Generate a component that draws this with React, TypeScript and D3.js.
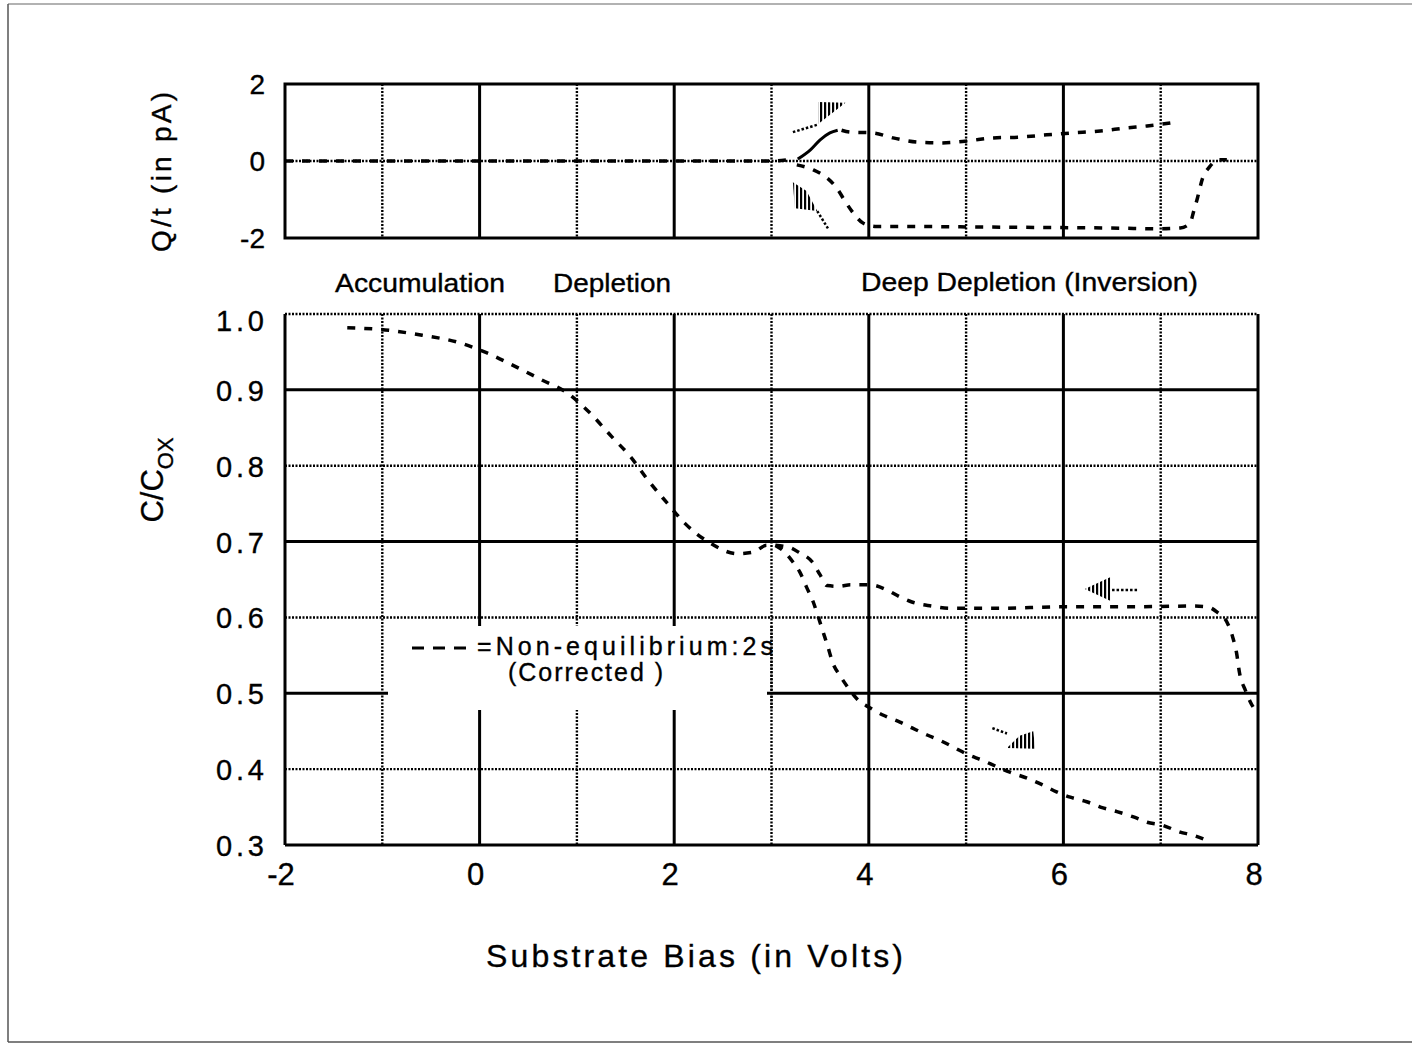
import React from "react";
import * as d3 from "d3";

// ---------- data ----------
const xTicks = [-2, 0, 2, 4, 6, 8];
const xGrid = [-1, 0, 1, 2, 3, 4, 5, 6, 7];
const qTicks = [2, 0, -2];
const cTicks = [1.0, 0.9, 0.8, 0.7, 0.6, 0.5, 0.4, 0.3];
const cGrid = [0.4, 0.5, 0.6, 0.7, 0.8, 0.9];

// C/Cox, common part of sweep
const cvCommon: [number, number][] = [
  [-1.36, 0.982], [-0.97, 0.979], [-0.59, 0.972], [-0.23, 0.963], [0.07, 0.949],
  [0.38, 0.93], [0.64, 0.913], [0.9, 0.896], [1.13, 0.87], [1.36, 0.838],
  [1.55, 0.812], [1.73, 0.781], [1.92, 0.752], [2.11, 0.724], [2.37, 0.698],
  [2.65, 0.684], [2.81, 0.686], [2.95, 0.695], [3.04, 0.695],
];
// C/Cox, deep-depletion branch (forward)
const cvDeep: [number, number][] = [
  [3.04, 0.695], [3.12, 0.688], [3.22, 0.673], [3.29, 0.66], [3.36, 0.64],
  [3.43, 0.62], [3.48, 0.601], [3.53, 0.581], [3.58, 0.561], [3.63, 0.54],
  [3.7, 0.524], [3.79, 0.507], [3.89, 0.491], [4.01, 0.481], [4.15, 0.471],
  [4.32, 0.462], [4.45, 0.454], [4.6, 0.445], [4.73, 0.438], [4.87, 0.429],
  [5.02, 0.419], [5.16, 0.412], [5.32, 0.403], [5.45, 0.396], [5.63, 0.388],
  [5.79, 0.379], [5.93, 0.37], [6.07, 0.363], [6.24, 0.357], [6.38, 0.35],
  [6.55, 0.344], [6.72, 0.337], [6.86, 0.33], [7.02, 0.326], [7.2, 0.317],
  [7.33, 0.313], [7.51, 0.304],
];
// C/Cox, return branch
const cvReturn: [number, number][] = [
  [3.04, 0.695], [3.19, 0.692], [3.29, 0.685], [3.42, 0.673], [3.5, 0.656],
  [3.57, 0.642], [3.7, 0.641], [3.81, 0.643], [4.01, 0.643], [4.19, 0.636],
  [4.32, 0.627], [4.45, 0.62], [4.65, 0.615], [4.83, 0.612], [5.01, 0.612],
  [5.35, 0.612], [5.97, 0.614], [6.65, 0.614], [7.33, 0.615], [7.48, 0.614],
  [7.58, 0.607], [7.68, 0.594], [7.74, 0.574], [7.78, 0.553], [7.81, 0.527],
  [7.87, 0.504], [7.92, 0.489], [7.99, 0.474],
];

// Q/t curves
const qFlat: [number, number][] = [[-2, 0], [3.0, 0.0], [3.16, 0.03]];
const qRiseSolid: [number, number][] = [
  [3.27, 0.05], [3.4, 0.29], [3.5, 0.55], [3.6, 0.73], [3.68, 0.8],
];
const qForward: [number, number][] = [
  [3.72, 0.8], [3.81, 0.75], [4.04, 0.73], [4.25, 0.6], [4.5, 0.49], [4.73, 0.47],
  [5.01, 0.52], [5.28, 0.6], [5.55, 0.62], [5.83, 0.68], [6.1, 0.73],
  [6.38, 0.78], [6.65, 0.86], [6.86, 0.91], [7.1, 0.99],
];
const qReturn: [number, number][] = [
  [3.26, -0.1], [3.43, -0.23], [3.57, -0.44], [3.67, -0.7], [3.76, -1.06],
  [3.84, -1.35], [3.94, -1.61], [4.08, -1.7], [4.42, -1.7], [4.94, -1.71],
  [5.45, -1.72], [5.97, -1.73], [6.48, -1.74], [6.99, -1.76], [7.2, -1.74],
  [7.3, -1.62], [7.34, -1.3], [7.38, -0.94], [7.43, -0.45], [7.5, -0.16],
  [7.59, 0.03], [7.68, 0.03],
];

// sweep-direction arrow annotations (hatched heads + dotted tails), data coords
const qArrowHeads: [number, number][][] = [
  [[3.48, 1.53], [3.48, 0.96], [3.76, 1.51]],
  [[3.22, -0.55], [3.24, -1.23], [3.47, -1.3], [3.36, -0.78]],
];
const qArrowTails: [number, number][][] = [
  [[3.22, 0.75], [3.47, 0.94]],
  [[3.47, -1.3], [3.58, -1.75]],
];
const cArrowHeads: [number, number][][] = [
  [[6.22, 0.6375], [6.48, 0.653], [6.48, 0.622]],
  [[5.42, 0.428], [5.71, 0.427], [5.69, 0.45], [5.55, 0.444]],
];
const cArrowTails: [number, number][][] = [
  [[6.5, 0.636], [6.77, 0.636]],
  [[5.27, 0.454], [5.42, 0.447]],
];

// ---------- layout ----------
const W = 1412;
const H = 1044;
const L = 285;
const R = 1258;
const qTop = 84;
const qBot = 238;
const cTop = 314;
const cBot = 845;

const FONT = "'Liberation Sans', Arial, Helvetica, sans-serif";

export default function App() {
  const x = d3.scaleLinear().domain([-2, 8]).range([L, R]);
  const yq = d3.scaleLinear().domain([-2, 2]).range([qBot, qTop]);
  const yc = d3.scaleLinear().domain([0.3, 1.0]).range([cBot, cTop]);

  const lineQ = d3
    .line<[number, number]>()
    .x((d) => x(d[0]))
    .y((d) => yq(d[1]))
    .curve(d3.curveMonotoneX);
  const lineC = d3
    .line<[number, number]>()
    .x((d) => x(d[0]))
    .y((d) => yc(d[1]))
    .curve(d3.curveMonotoneX);
  const polyQ = (pts: [number, number][]) =>
    "M" + pts.map((p) => `${x(p[0])},${yq(p[1])}`).join("L") + "Z";
  const polyC = (pts: [number, number][]) =>
    "M" + pts.map((p) => `${x(p[0])},${yc(p[1])}`).join("L") + "Z";
  const straightQ = d3.line<[number, number]>().x((d) => x(d[0])).y((d) => yq(d[1]));
  const straightC = d3.line<[number, number]>().x((d) => x(d[0])).y((d) => yc(d[1]));

  const solid = { stroke: "#000", strokeWidth: 3, fill: "none" };
  const dotted = { stroke: "#000", strokeWidth: 2.4, fill: "none", strokeDasharray: "2,1.5" };
  const dataDash = {
    stroke: "#000",
    strokeWidth: 3.5,
    fill: "none",
    strokeDasharray: "8,9",
  };
  const txt = { fill: "#000", stroke: "#000", strokeWidth: 0.35 };

  // legend box (white-out region of grid)
  const legX0 = 388;
  const legX1 = 767;
  const legY0 = 626;
  const legY1 = 710;

  return (
    <svg
      width={W}
      height={H}
      style={{ position: "absolute", left: 0, top: 0, display: "block", background: "#fff" }}
      fontFamily={FONT}
    >
      <defs>
        <pattern id="hatch" width="4" height="4" patternUnits="userSpaceOnUse">
          <rect x="0" y="0" width="2.2" height="4" fill="#000" />
        </pattern>
      </defs>
      <rect x={0} y={0} width={W} height={H} fill="#fff" />
      {/* page frame */}
      <line x1={8} y1={4} x2={W} y2={4} stroke="#666" strokeWidth={1.2} />
      <line x1={8} y1={4} x2={8} y2={1042} stroke="#555" strokeWidth={1.5} />
      <line x1={8} y1={1042} x2={W} y2={1042} stroke="#555" strokeWidth={1.5} />

      {/* ===== upper panel: Q/t ===== */}
      {xGrid.map((v) => (
        <line
          key={"qg" + v}
          x1={x(v)}
          x2={x(v)}
          y1={qTop}
          y2={qBot}
          {...(v % 2 === 0 ? solid : dotted)}
        />
      ))}
      <line x1={L} x2={R} y1={yq(0)} y2={yq(0)} {...dotted} />
      <rect x={L} y={qTop} width={R - L} height={qBot - qTop} {...solid} />

      {qTicks.map((v) => (
        <text
          key={"qt" + v}
          x={265}
          y={yq(v) + 10}
          textAnchor="end"
          fontSize={28}
          {...txt}
        >
          {String(v)}
        </text>
      ))}
      <text
        transform={`translate(171,172) rotate(-90)`}
        textAnchor="middle"
        fontSize={28}
        textLength={160}
        lengthAdjust="spacing"
        {...txt}
      >
        Q/t (in pA)
      </text>

      <path d={lineQ(qFlat) || ""} {...dataDash} />
      <path d={lineQ(qRiseSolid) || ""} stroke="#000" strokeWidth={3} fill="none" />
      <path d={lineQ(qForward) || ""} {...dataDash} />
      <path d={lineQ(qReturn) || ""} {...dataDash} />
      {qArrowHeads.map((p, i) => (
        <path key={"qah" + i} d={polyQ(p)} fill="url(#hatch)" />
      ))}
      {qArrowTails.map((p, i) => (
        <path
          key={"qat" + i}
          d={straightQ(p) || ""}
          stroke="#000"
          strokeWidth={2.5}
          strokeDasharray="2.5,2"
          fill="none"
        />
      ))}

      {/* region labels */}
      <text x={335} y={292} fontSize={26} textLength={170} lengthAdjust="spacingAndGlyphs" {...txt}>
        Accumulation
      </text>
      <text x={553} y={292} fontSize={26} textLength={118} lengthAdjust="spacingAndGlyphs" {...txt}>
        Depletion
      </text>
      <text x={861} y={291} fontSize={26} textLength={337} lengthAdjust="spacingAndGlyphs" {...txt}>
        Deep Depletion (Inversion)
      </text>

      {/* ===== lower panel: C/Cox ===== */}
      {xGrid.map((v) => (
        <line
          key={"cg" + v}
          x1={x(v)}
          x2={x(v)}
          y1={cTop}
          y2={cBot}
          {...(v % 2 === 0 ? solid : dotted)}
        />
      ))}
      {cGrid.map((v) => (
        <line
          key={"ch" + v}
          x1={L}
          x2={R}
          y1={yc(v)}
          y2={yc(v)}
          {...(Math.round(v * 10) % 2 === 1 ? solid : dotted)}
        />
      ))}
      <rect x={legX0} y={legY0} width={legX1 - legX0} height={legY1 - legY0} fill="#fff" />
      <line x1={x(3)} x2={x(3)} y1={legY0} y2={legY1} {...dotted} />
      <line x1={L} x2={R} y1={cTop} y2={cTop} {...dotted} />
      <line x1={L} x2={R} y1={cBot} y2={cBot} {...solid} />
      <line x1={L} x2={L} y1={cTop} y2={cBot} {...solid} />
      <line x1={R} x2={R} y1={cTop} y2={cBot} {...solid} />

      {cTicks.map((v) => (
        <text
          key={"ct" + v}
          x={264}
          y={yc(v) + (v === 1 ? 17 : 11)}
          textAnchor="end"
          fontSize={29}
          textLength={48}
          lengthAdjust="spacing"
          {...txt}
        >
          {v.toFixed(1)}
        </text>
      ))}
      <text transform={`translate(163,480) rotate(-90)`} textAnchor="middle" {...txt}>
        <tspan fontSize={31}>C/C</tspan>
        <tspan fontSize={22} dy={10}>OX</tspan>
      </text>

      {xTicks.map((v) => (
        <text
          key={"xt" + v}
          x={x(v) - 4}
          y={885}
          textAnchor="middle"
          fontSize={31}
          {...txt}
        >
          {String(v)}
        </text>
      ))}
      <text x={486} y={967} fontSize={32} textLength={417} lengthAdjust="spacing" {...txt}>
        Substrate  Bias  (in  Volts)
      </text>

      <path d={lineC(cvCommon) || ""} {...dataDash} />
      <path d={lineC(cvDeep) || ""} {...dataDash} />
      <path d={lineC(cvReturn) || ""} {...dataDash} />
      {cArrowHeads.map((p, i) => (
        <path key={"cah" + i} d={polyC(p)} fill="url(#hatch)" />
      ))}
      {cArrowTails.map((p, i) => (
        <path
          key={"cat" + i}
          d={straightC(p) || ""}
          stroke="#000"
          strokeWidth={2.5}
          strokeDasharray="2.5,2"
          fill="none"
        />
      ))}

      {/* legend */}
      <line
        x1={412}
        x2={468}
        y1={648}
        y2={648}
        stroke="#000"
        strokeWidth={3}
        strokeDasharray="12,9"
      />
      <text x={477} y={655} fontSize={25} textLength={296} lengthAdjust="spacing" {...txt}>
        =Non-equilibrium:2s
      </text>
      <text x={508} y={681} fontSize={25} textLength={155} lengthAdjust="spacing" {...txt}>
        (Corrected )
      </text>
    </svg>
  );
}
